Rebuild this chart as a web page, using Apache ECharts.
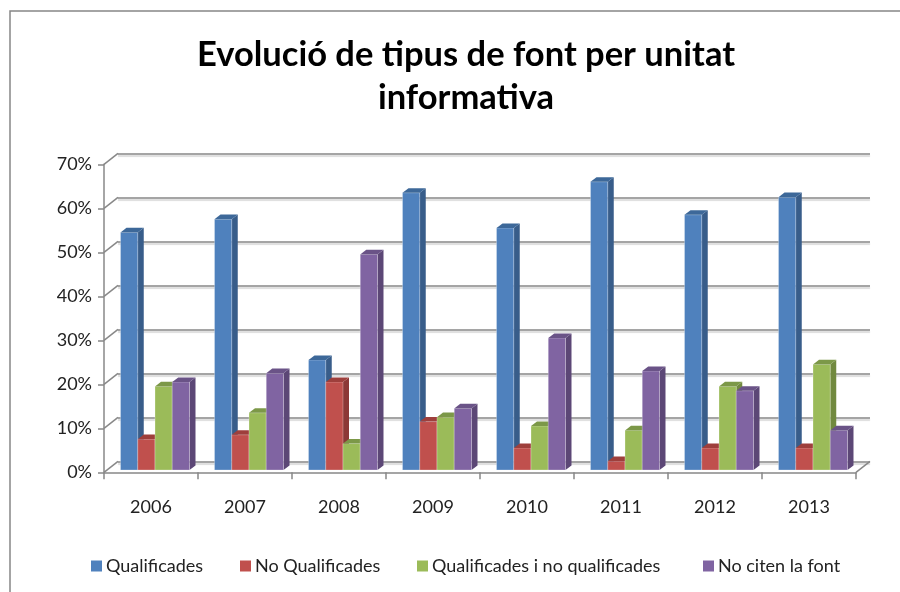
<!DOCTYPE html>
<html>
<head>
<meta charset="utf-8">
<script src="https://cdn.jsdelivr.net/npm/echarts@6/dist/echarts.min.js"></script>
<style>
  html, body { margin: 0; padding: 0; background: #fff; }
  #chart { width: 900px; height: 592px; }
</style>
</head>
<body>
<div id="chart"></div>
<script>
// dades llegides del gràfic
const years = ['2006', '2007', '2008', '2009', '2010', '2011', '2012', '2013'];
const qualificades = [54, 57, 25, 63, 55, 65.5, 58, 62];
const noQualificades = [7, 8, 20, 11, 5, 2, 5, 5];
const qualificadesINo = [19, 13, 6, 12, 10, 9, 19, 24];
const noCiten = [20, 22, 49, 14, 30, 22.5, 18, 9];
const yTicks = [0, 10, 20, 30, 40, 50, 60, 70];
const seriesNames = ['Qualificades', 'No Qualificades', 'Qualificades i no qualificades', 'No citen la font'];

const FONT = 'Lato, "Open Sans", sans-serif';
// desplaçament de profunditat (pla frontal -> paret del fons)
const DEPTH_X = 14, DEPTH_Y = 11;
// profunditat de les barres
const BAR_DX = 6, BAR_DY = 4.6;
const BAR_SHIFT_X = 4, BAR_SHIFT_Y = 2.3;

const palette = [
    { front: '#4F81BD', side: '#385D8A', top: '#3D6899' },
    { front: '#C0504D', side: '#8C3836', top: '#9E3F3C' },
    { front: '#9BBB59', side: '#71893F', top: '#7C9848' },
    { front: '#8064A2', side: '#5C4776', top: '#6A5387' }
];

function barSeries(name, values, slot) {
    const c = palette[slot];
    return {
        name: name,
        type: 'custom',
        xAxisIndex: 1,
        yAxisIndex: 1,
        itemStyle: { color: c.front },
        data: values.map((v, i) => [i, v]),
        encode: { x: 0, y: 1 },
        renderItem: function (params, api) {
            const base = api.coord([api.value(0), 0]);
            const top = api.coord([api.value(0), api.value(1)]);
            const band = api.size([1, 0])[0];
            const w = band * 0.1835;
            const x0 = base[0] + BAR_SHIFT_X - 2 * w + slot * w;
            const y0 = base[1] - BAR_SHIFT_Y;
            const y1 = top[1] - BAR_SHIFT_Y;
            return {
                type: 'group',
                children: [
                    {
                        type: 'polygon',
                        shape: { points: [[x0 + w, y1], [x0 + w + BAR_DX, y1 - BAR_DY], [x0 + w + BAR_DX, y0 - BAR_DY], [x0 + w, y0]] },
                        style: { fill: c.side }
                    },
                    {
                        type: 'rect',
                        shape: { x: x0, y: y1, width: w, height: y0 - y1 },
                        style: { fill: c.front, stroke: 'rgba(255,255,255,0.35)', lineWidth: 0.8 }
                    },
                    {
                        type: 'polygon',
                        shape: { points: [[x0, y1], [x0 + w, y1], [x0 + w + BAR_DX, y1 - BAR_DY], [x0 + BAR_DX, y1 - BAR_DY]] },
                        style: { fill: c.top }
                    }
                ]
            };
        }
    };
}

const edgeStyle = { stroke: '#888', lineWidth: 1.5 };

const chart = echarts.init(document.getElementById('chart'));
chart.setOption({
    animation: false,
    backgroundColor: '#fff',
    title: {
        text: 'Evolució de tipus de font per unitat\ninformativa',
        left: 461,
        top: 28,
        textAlign: 'center',
        textStyle: { fontFamily: FONT, fontWeight: 'bold', fontSize: 34.5, lineHeight: 43, color: '#000' }
    },
    legend: seriesNames.map((n, i) => ({
        data: [n],
        left: [86, 235, 412, 698][i],
        top: 552,
        icon: 'rect',
        itemWidth: 11,
        itemHeight: 11,
        itemGap: 6,
        textStyle: { fontFamily: FONT, fontSize: 18, color: '#222', padding: [0, 0, 0, -1] }
    })),
    graphic: [{
        type: 'rect',
        shape: { x: 10, y: 11, width: 920, height: 620 },
        style: { fill: null, stroke: '#868686', lineWidth: 1.5 },
        silent: true
    }],
    grid: [
        // paret del fons
        { left: 104 + DEPTH_X, right: 44 - DEPTH_X, top: 164.3 - DEPTH_Y, bottom: 119.7 + DEPTH_Y },
        // pla frontal
        { left: 104, right: 44, top: 164.3, bottom: 119.7 }
    ],
    xAxis: [
        { gridIndex: 0, type: 'category', data: years, show: false },
        {
            gridIndex: 1, type: 'category', data: years,
            axisLine: { lineStyle: { color: '#888', width: 1.5 } },
            axisTick: { show: true, length: 7, lineStyle: { color: '#888', width: 1.5 } },
            axisLabel: { fontFamily: FONT, fontSize: 18, color: '#222', margin: 26 }
        }
    ],
    yAxis: [
        {
            gridIndex: 0, type: 'value', min: 0, max: 70, interval: 10,
            axisLine: { show: false }, axisTick: { show: false }, axisLabel: { show: false },
            splitLine: { lineStyle: { color: '#878787', width: 1.5, shadowColor: 'rgba(0,0,0,0.18)', shadowOffsetY: 2, shadowBlur: 1 } }
        },
        {
            gridIndex: 1, type: 'value', min: 0, max: 70, interval: 10,
            axisLine: { show: true, lineStyle: { color: '#888', width: 1.5 } },
            axisTick: { show: true, length: 6, lineStyle: { color: '#888', width: 1.5 } },
            splitLine: { show: false },
            axisLabel: { fontFamily: FONT, fontSize: 18, color: '#222', margin: 12, formatter: '{value}%' }
        }
    ],
    series: [
        // arestes de la paret lateral i el terra
        {
            type: 'custom',
            xAxisIndex: 1, yAxisIndex: 1,
            silent: true,
            data: yTicks.map(v => [0, v]),
            encode: { x: 0, y: 1 },
            renderItem: function (params, api) {
                const y = api.coord([0, api.value(1)])[1];
                const x = params.coordSys.x;
                return { type: 'line', shape: { x1: x, y1: y, x2: x + DEPTH_X, y2: y - DEPTH_Y }, style: edgeStyle };
            }
        },
        {
            type: 'custom',
            xAxisIndex: 1, yAxisIndex: 1,
            silent: true,
            data: [[0, 0]],
            encode: { x: 0, y: 1 },
            renderItem: function (params, api) {
                const y = api.coord([0, 0])[1];
                const x = params.coordSys.x + params.coordSys.width;
                return { type: 'line', shape: { x1: x, y1: y, x2: x + DEPTH_X, y2: y - DEPTH_Y }, style: edgeStyle };
            }
        },
        barSeries(seriesNames[0], qualificades, 0),
        barSeries(seriesNames[1], noQualificades, 1),
        barSeries(seriesNames[2], qualificadesINo, 2),
        barSeries(seriesNames[3], noCiten, 3)
    ]
});
</script>
</body>
</html>
